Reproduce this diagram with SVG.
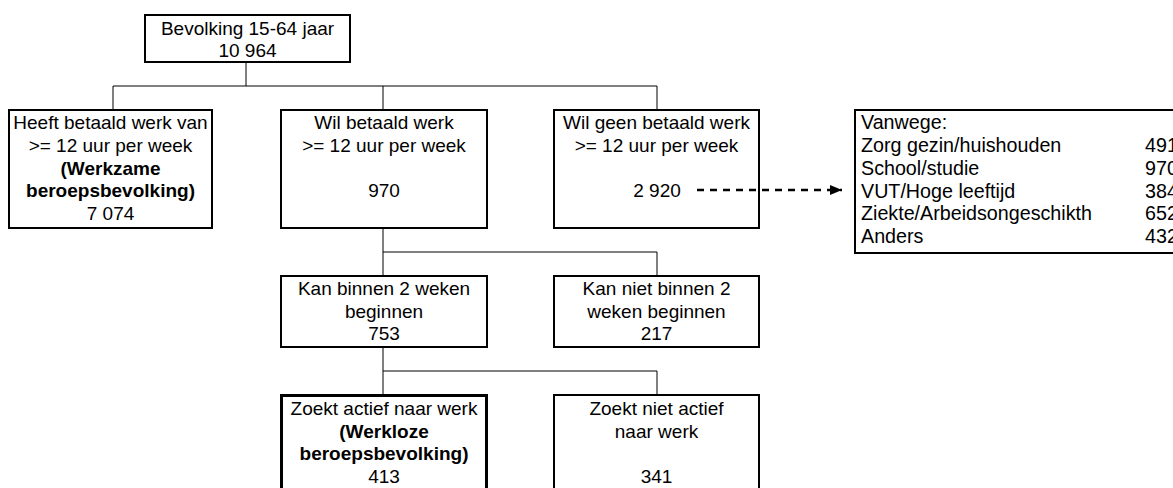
<svg xmlns="http://www.w3.org/2000/svg" width="1173" height="488" viewBox="0 0 1173 488">
<defs>
<style>
.box{fill:#fff;stroke:#000;stroke-width:2}
.thick{stroke-width:3}
.t{font-family:"Liberation Sans",Arial,sans-serif;font-size:19px;fill:#000;text-anchor:middle}
.l{text-anchor:start;font-size:19.7px}
.b{font-weight:bold}
.c{fill:none;stroke:#000;stroke-width:1}
.d{fill:none;stroke:#000;stroke-width:2.6;stroke-dasharray:7 6}
</style>
<marker id="ah" markerWidth="13" markerHeight="12" refX="12" refY="6" orient="auto" markerUnits="userSpaceOnUse">
<path d="M0,1 L12,6 L0,11 Z" fill="#000"/>
</marker>
</defs>
<rect width="1173" height="488" fill="#fff"/>
<g id="n-bevolking">
<rect class="box" x="145" y="15" width="205" height="47"/>
<text class="t" x="247.5" y="35">Bevolking 15-64 jaar</text>
<text class="t" x="247.5" y="57">10 964</text>
</g>
<g id="n-werkzaam">
<rect class="box" x="9" y="110" width="203" height="118"/>
<text class="t" x="110.5" y="129">Heeft betaald werk van</text>
<text class="t" x="110.5" y="152">&gt;= 12 uur per week</text>
<text class="t b" x="110.5" y="175">(Werkzame</text>
<text class="t b" x="110.5" y="197">beroepsbevolking)</text>
<text class="t" x="110.5" y="220">7 074</text>
</g>
<g id="n-wil">
<rect class="box" x="281" y="110" width="206" height="118"/>
<text class="t" x="384" y="129">Wil betaald werk</text>
<text class="t" x="384" y="152">&gt;= 12 uur per week</text>
<text class="t" x="384" y="197">970</text>
</g>
<g id="n-wilgeen">
<rect class="box" x="554" y="110" width="205" height="118"/>
<text class="t" x="656.5" y="129">Wil geen betaald werk</text>
<text class="t" x="656.5" y="152">&gt;= 12 uur per week</text>
<text class="t" x="657" y="197">2 920</text>
</g>
<g id="n-vanwege">
<rect class="box" x="855" y="110" width="330" height="143"/>
<text class="t l" x="861" y="129">Vanwege:</text>
<text class="t l" x="861" y="152">Zorg gezin/huishouden</text>
<text class="t l" x="861" y="175">School/studie</text>
<text class="t l" x="861" y="198">VUT/Hoge leeftijd</text>
<text class="t l" x="861" y="220">Ziekte/Arbeidsongeschikth</text>
<text class="t l" x="861" y="243">Anders</text>
<text class="t l" x="1145" y="152">491</text>
<text class="t l" x="1145" y="175">970</text>
<text class="t l" x="1145" y="198">384</text>
<text class="t l" x="1145" y="220">652</text>
<text class="t l" x="1145" y="243">432</text>
</g>
<g id="n-kanbinnen">
<rect class="box" x="281" y="276" width="206" height="71"/>
<text class="t" x="384" y="295">Kan binnen 2 weken</text>
<text class="t" x="384" y="318">beginnen</text>
<text class="t" x="384" y="340">753</text>
</g>
<g id="n-kanniet">
<rect class="box" x="554" y="276" width="205" height="71"/>
<text class="t" x="656.5" y="295">Kan niet binnen 2</text>
<text class="t" x="656.5" y="318">weken beginnen</text>
<text class="t" x="656.5" y="340">217</text>
</g>
<g id="n-zoektactief">
<rect class="box thick" x="281.5" y="395.5" width="205" height="110"/>
<text class="t" x="384" y="415">Zoekt actief naar werk</text>
<text class="t b" x="384" y="438">(Werkloze</text>
<text class="t b" x="384" y="460">beroepsbevolking)</text>
<text class="t" x="384" y="483">413</text>
</g>
<g id="n-zoektniet">
<rect class="box" x="554" y="395" width="205" height="110"/>
<text class="t" x="656.5" y="415">Zoekt niet actief</text>
<text class="t" x="656.5" y="438">naar werk</text>
<text class="t" x="656.5" y="483">341</text>
</g>
<g id="connectors">
<path class="c" d="M246,62 V86 M113,86 H657 M113,86 V110 M383,86 V110 M657,86 V110"/>
<path class="c" d="M383,228 V276 M383,252 H657 V276"/>
<path class="c" d="M383,347 V395 M383,371 H657 V395"/>
<path class="d" d="M697,190 H842" marker-end="url(#ah)"/>
</g>
</svg>
